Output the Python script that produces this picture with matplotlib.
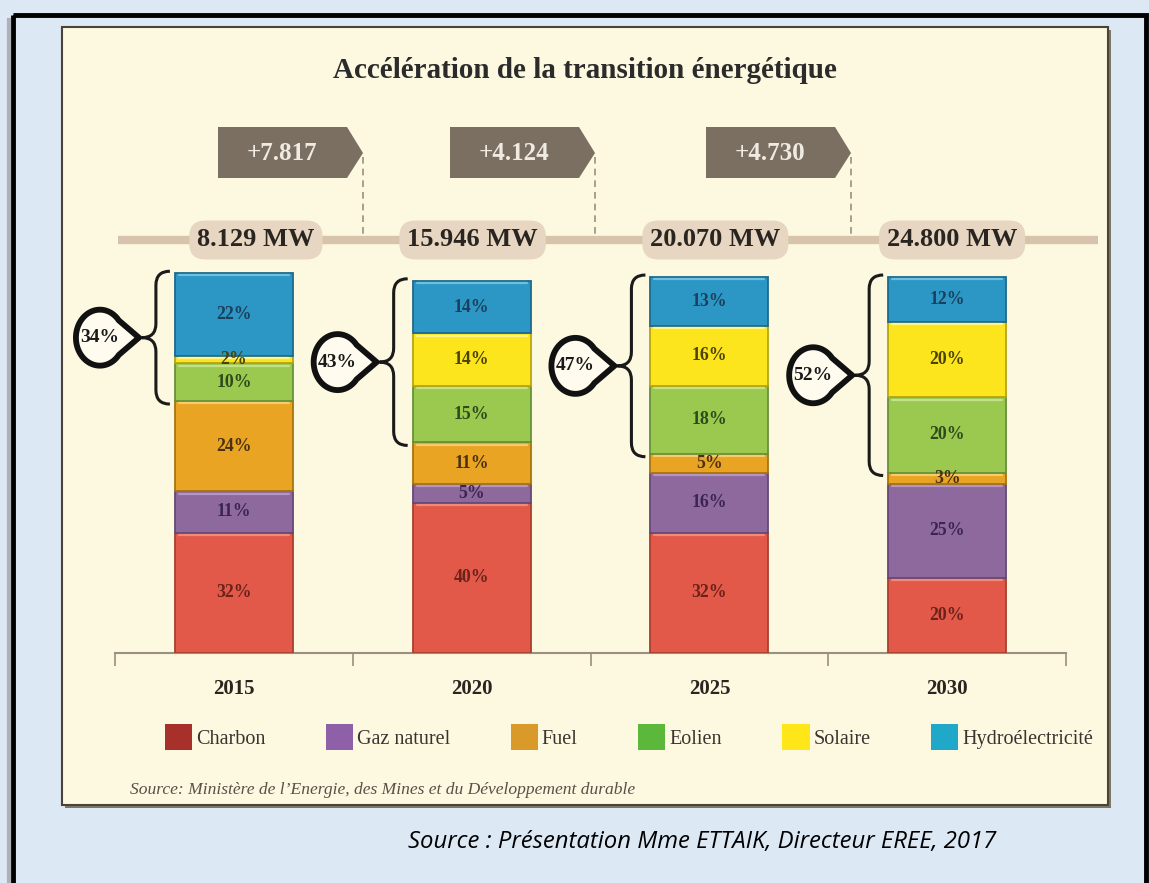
import matplotlib
matplotlib.use('Agg')
import matplotlib.pyplot as plt
from matplotlib.patches import Rectangle, Polygon, PathPatch, Patch
from matplotlib.path import Path
import numpy as np

plt.rcParams['font.family'] = ['Liberation Serif', 'DejaVu Serif']

# ---------------- data ----------------
years = ['2015', '2020', '2025', '2030']
capacity_mw = [8129, 15946, 20070, 24800]
sources = ['Charbon', 'Gaz naturel', 'Fuel', 'Eolien', 'Solaire', 'Hydroélectricité']
charbon = [32, 40, 32, 20]
gaz_naturel = [11, 5, 16, 25]
fuel = [24, 11, 5, 3]
eolien = [10, 15, 18, 20]
solaire = [2, 14, 16, 20]
hydro = [22, 14, 13, 12]

title = 'Accélération de la transition énergétique'
source_inner = 'Source: Ministère de l’Energie, des Mines et du Développement durable'
source_outer = 'Source : Présentation Mme ETTAIK, Directeur EREE, 2017'

# ---------------- styles ----------------
bar_colors = ['#E2594A', '#8E699E', '#E9A423', '#9BC84F', '#FDE51E', '#2C97C4']
edge_colors = ['#A8402F', '#644878', '#A8740F', '#66923A', '#B8A410', '#1D6A8E']
light_colors = ['#F08A78', '#B596C2', '#F7CB6A', '#C3E08A', '#FFF38A', '#6CC0E0']
label_colors = ['#6B2218', '#3B2550', '#4A3210', '#2E4A1C', '#4A4400', '#1B3F5C']
legend_colors = ['#A8302A', '#8E60A8', '#D99A2A', '#5BB83A', '#FFE619', '#1FA8C8']

series = [charbon, gaz_naturel, fuel, eolien, solaire, hydro]

def fmt_thousands(v):
    return f'{v:,}'.replace(',', '.')

W, H = 1149, 883
fig = plt.figure(figsize=(W / 100, H / 100), dpi=100, facecolor='#DDE8F5')

# background / decoration axes in pixel coordinates
bg = fig.add_axes([0, 0, 1, 1])
bg.set_xlim(0, W)
bg.set_ylim(H, 0)
bg.axis('off')

bg.plot([9, 9], [20, 890], color='#9a9a9a', lw=3, alpha=0.7)
bg.add_patch(Rectangle((13, 15), 1133, 900, fill=False, ec='black', lw=3.5))
bg.add_patch(Rectangle((65, 30), 1046, 778, fc='#7f7568', ec='none'))
bg.add_patch(Rectangle((62, 27), 1046, 778, fc='#FDF8E0', ec='#4a4438', lw=1.5))

bg.text(585, 70, title, ha='center', va='center', fontsize=21, fontweight='bold', color='#2B2B2B')

# horizontal capacity line
bg.plot([118, 1098], [240, 240], color='#D8C3AC', lw=6, solid_capstyle='butt')

# increment arrows
arrow_lefts = [218, 450, 706]
for k, left in enumerate(arrow_lefts):
    diff = capacity_mw[k + 1] - capacity_mw[k]
    tip = left + 145
    poly = Polygon([(left, 127), (left + 129, 127), (tip, 153), (left + 129, 178), (left, 178)],
                   closed=True, fc='#7B6F62', ec='none')
    bg.add_patch(poly)
    bg.text(left + 64, 153, '+' + fmt_thousands(diff), ha='center', va='center',
            fontsize=18, fontweight='bold', color='#F0EAE0')
    bg.plot([tip, tip], [157, 236], color='#9a8e80', lw=1.2, ls=(0, (4, 3)))

bg.text(130, 790, source_inner, ha='left', va='center', fontsize=12.6, fontstyle='italic',
        color='#5a5048')
bg.text(408, 842, source_outer, ha='left', va='center', fontsize=17.2, fontstyle='italic',
        family=['Open Sans', 'DejaVu Sans'], color='black')

# ---------------- bar axes ----------------
sx = 951 / 4.0      # px per x unit
sy = 3.76           # px per percent
ymax = 110
ax = fig.add_axes([115 / W, (H - 653) / H, 951 / W, ymax * sy / H])
ax.set_xlim(-0.5, 3.5)
ax.set_ylim(0, ymax)
ax.patch.set_alpha(0)

x = np.arange(len(years))
bw = 0.496
bottoms = np.zeros(len(years))
for vals, c, ec, hc, lc in zip(series, bar_colors, edge_colors, light_colors, label_colors):
    vals = np.array(vals, dtype=float)
    ax.bar(x, vals, bw, bottom=bottoms, color=c, edgecolor=ec, lw=1.3, zorder=3)
    # light bevel highlight at the top of each segment
    for xi, b, v in zip(x, bottoms, vals):
        ytop_seg = b + v - 2.2 / sy
        ax.plot([xi - bw / 2 + 4 / sx, xi + bw / 2 - 4 / sx], [ytop_seg, ytop_seg],
                color=hc, lw=1.6, zorder=3.5, solid_capstyle='round')
        ax.text(xi, b + v / 2, f'{int(v)}%', ha='center', va='center', fontsize=12.8,
                fontweight='bold', color=lc, zorder=5)
    bottoms += vals

# capacity boxes
box_offsets_px = [22, 1, 6, 5]
for xi, cap, off in zip(x, capacity_mw, box_offsets_px):
    ax.text(xi + off / sx, (653 - 240) / sy, fmt_thousands(cap) + ' MW', ha='center', va='center',
            fontsize=19, fontweight='bold', color='#2A2520', clip_on=False, zorder=4,
            bbox=dict(boxstyle='round,pad=0.3,rounding_size=0.6', fc='#E6D6C2', ec='none'))

# braces and teardrops for renewable share
for i in range(len(years)):
    renew = eolien[i] + solaire[i] + hydro[i]
    total = bottoms[i]
    ytop = total + 2 / sy
    ybot = total - renew - 3 / sy
    bar_left = x[i] - bw / 2
    xr = bar_left - 5 / sx
    xm = bar_left - 19 / sx
    xc = bar_left - 33 / sx
    r = 14 / sy
    ymid = (ytop + ybot) / 2
    verts = [(xr, ytop), (xm, ytop), (xm, ytop - r), (xm, ymid + r), (xm, ymid), (xc, ymid),
             (xm, ymid), (xm, ymid - r), (xm, ybot + r), (xm, ybot), (xr, ybot)]
    codes = [Path.MOVETO, Path.CURVE3, Path.CURVE3, Path.LINETO, Path.CURVE3, Path.CURVE3,
             Path.CURVE3, Path.CURVE3, Path.LINETO, Path.CURVE3, Path.CURVE3]
    ax.add_patch(PathPatch(Path(verts, codes), fill=False, lw=2.2, ec='#1a1a1a',
                           clip_on=False, zorder=4))
    cx = xc - 42 / sx
    cy = ymid
    ang = np.radians(np.linspace(38, 322, 60))
    pts = [(cx + 24 * np.cos(a) / sx, cy + 28 * np.sin(a) / sy) for a in ang]
    pts.append((xc - 3 / sx, cy))
    ax.add_patch(Polygon(pts, closed=True, fc='#FFFCEF', ec='#111111', lw=4.2,
                         clip_on=False, zorder=4))
    ax.text(cx, cy, f'{renew}%', ha='center', va='center', fontsize=14, fontweight='bold',
            color='#1a1a1a', zorder=5, clip_on=False)

# axis styling
ax.set_xticks(x)
ax.set_xticklabels(years)
ax.set_xticks([-0.5, 0.5, 1.5, 2.5, 3.5], minor=True)
ax.tick_params(axis='x', which='major', length=0, pad=19, labelsize=15, labelcolor='#2a2520')
ax.tick_params(axis='x', which='minor', length=9, width=1.2, color='#9a8f80', direction='out')
for lab in ax.get_xticklabels():
    lab.set_fontweight('bold')
ax.set_yticks([])
for s in ['left', 'right', 'top']:
    ax.spines[s].set_visible(False)
ax.spines['bottom'].set_color('#9a8f80')
ax.spines['bottom'].set_linewidth(1.5)

# legend
handles = [Patch(fc=c, ec='none') for c in legend_colors]
leg = fig.legend(handles, sources, ncol=6, loc='center', bbox_to_anchor=(629 / W, 1 - 737 / H),
                 frameon=False, fontsize=14.5, handlelength=1.35, handleheight=1.55,
                 handletextpad=0.2, columnspacing=3.0, labelcolor='#3a3430')

fig.savefig('out.png', dpi=100, facecolor=fig.get_facecolor())
